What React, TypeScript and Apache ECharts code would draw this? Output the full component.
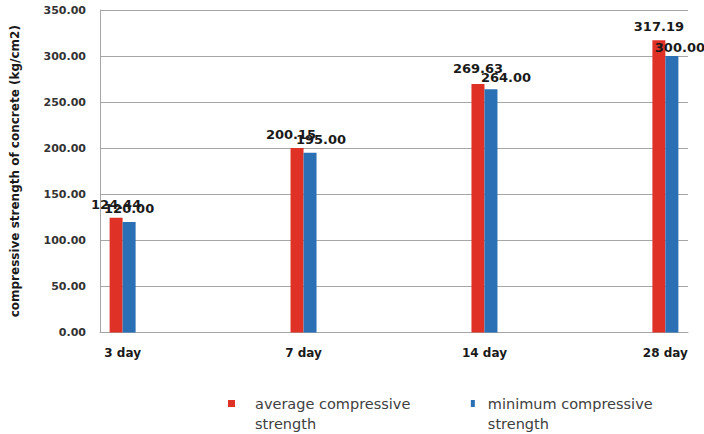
import React, { useEffect, useRef } from 'react';
import * as echarts from 'echarts';

const categories = ['3 day', '7 day', '14 day', '28 day'];
const averageStrength = [124.44, 200.15, 269.63, 317.19];
const minimumStrength = [120.0, 195.0, 264.0, 300.0];
const seriesNames = ['average compressive strength', 'minimum compressive strength'];
const yAxisName = 'compressive strength of concrete (kg/cm2)';

// label nudges (mimic the original's overlapping label placement)
const avgLabelOffsets = [[0, 0], [-6, 0], [0, -2], [0, 0]];
const minLabelOffsets = [[0, 0], [11, 0], [15, 2], [8, 5]];

const RED = '#E03127';
const BLUE = '#2B6FB4';
const FONT = 'DejaVu Sans';

export default function App() {
  const ref = useRef<HTMLDivElement>(null);
  useEffect(() => {
    if (!ref.current) return;
    const chart = echarts.init(ref.current, null, { renderer: 'svg' });
    const labelBase = {
      show: true,
      position: 'top',
      distance: 7,
      fontFamily: FONT,
      fontWeight: 'bold',
      fontSize: 13,
      color: '#1a1a1a',
      formatter: (p: any) => Number(p.value[1]).toFixed(2),
    };
    chart.setOption({
      animation: false,
      grid: { left: 100, right: 16, top: 10, bottom: 101.5, containLabel: false },
      legend: {
        left: 223,
        top: 368.5,
        itemWidth: 7,
        itemHeight: 7,
        itemGap: 60.5,
        formatter: (name: string) => '\n' + name.replace(' strength', '\nstrength'),
        textStyle: { fontFamily: FONT, fontSize: 14.5, color: '#404040', lineHeight: 20 },
        data: [
          { name: seriesNames[0], icon: 'rect', textStyle: { padding: [0, 0, 0, 15] } },
          { name: seriesNames[1], icon: 'path://M0,0h4v7h-4z', textStyle: { padding: [0, 0, 0, 6.5] } },
        ],
      },
      xAxis: {
        type: 'value',
        min: -0.125,
        max: 3.125,
        axisLine: { show: true, onZero: false, lineStyle: { color: '#A6A6A6', width: 1 } },
        axisTick: { show: false },
        splitLine: { show: false },
        axisLabel: {
          customValues: [0, 1, 2, 3],
          formatter: (v: number) => categories[Math.round(v)] ?? '',
          fontFamily: FONT,
          fontWeight: 'bold',
          fontSize: 12,
          color: '#1a1a1a',
          margin: 14,
        },
      },
      yAxis: {
        type: 'value',
        min: 0,
        max: 350,
        interval: 50,
        name: yAxisName,
        nameLocation: 'middle',
        nameGap: 79,
        nameTextStyle: { fontFamily: FONT, fontWeight: 'bold', fontSize: 12, color: '#1a1a1a' },
        axisLine: { show: true, onZero: false, lineStyle: { color: '#A6A6A6', width: 1 } },
        axisTick: { show: false },
        splitLine: { show: true, lineStyle: { color: '#A6A6A6', width: 1 } },
        axisLabel: {
          formatter: (v: number) => v.toFixed(2),
          fontFamily: FONT,
          fontWeight: 'bold',
          fontSize: 11,
          color: '#333333',
          margin: 14,
        },
      },
      series: [
        {
          name: seriesNames[0],
          type: 'bar',
          barWidth: 13,
          barGap: '0%',
          itemStyle: { color: RED },
          label: labelBase,
          data: averageStrength.map((v, i) => ({ value: [i, v], label: { offset: avgLabelOffsets[i] } })),
        },
        {
          name: seriesNames[1],
          type: 'bar',
          barWidth: 13,
          barGap: '0%',
          itemStyle: { color: BLUE },
          label: labelBase,
          data: minimumStrength.map((v, i) => ({ value: [i, v], label: { offset: minLabelOffsets[i] } })),
        },
      ],
    });
    return () => chart.dispose();
  }, []);
  return (
    <div
      ref={ref}
      style={{ position: 'fixed', left: 0, top: 0, width: 704, height: 434, background: '#ffffff' }}
    />
  );
}
